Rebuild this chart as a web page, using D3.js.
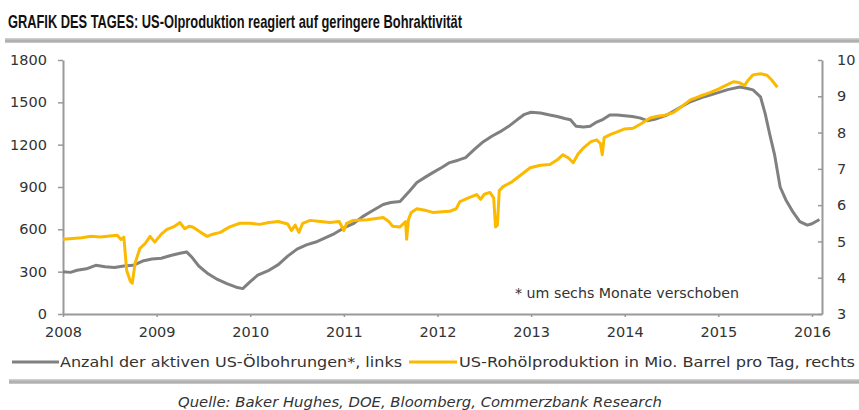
<!DOCTYPE html>
<html>
<head>
<meta charset="utf-8">
<script src="https://cdn.jsdelivr.net/npm/d3@7"></script>
<style>
  html, body { margin: 0; padding: 0; background: #fff; }
  svg { display: block; }
</style>
</head>
<body>
<svg id="chart" width="859" height="410"></svg>
<script>
// ---------- DATA ----------
const titleText = "GRAFIK DES TAGES: US-Olproduktion reagiert auf geringere Bohraktivität";
const sourceText = "Quelle: Baker Hughes, DOE, Bloomberg, Commerzbank Research";
const noteText = "* um sechs Monate verschoben";
const legendLabels = ["Anzahl der aktiven US-Ölbohrungen*, links", "US-Rohölproduktion in Mio. Barrel pro Tag, rechts"];

const yearTicks = [2008, 2009, 2010, 2011, 2012, 2013, 2014, 2015, 2016];
const leftTicks = [0, 300, 600, 900, 1200, 1500, 1800];
const rightTicks = [3, 4, 5, 6, 7, 8, 9, 10];

// Active US oil rigs (shifted 6 months), left axis
const rigDates = [2008.00,2008.08,2008.15,2008.25,2008.35,2008.45,2008.55,2008.65,2008.75,2008.85,2008.95,
  2009.05,2009.15,2009.25,2009.32,2009.38,2009.45,2009.55,2009.65,2009.75,2009.85,2009.92,
  2010.00,2010.08,2010.20,2010.30,2010.40,2010.50,2010.60,2010.70,2010.80,2010.90,
  2011.00,2011.10,2011.20,2011.30,2011.42,2011.50,2011.60,2011.70,2011.78,2011.87,2011.95,
  2012.05,2012.13,2012.22,2012.30,2012.40,2012.49,2012.58,2012.67,2012.76,2012.85,2012.93,
  2013.00,2013.10,2013.20,2013.28,2013.36,2013.42,2013.48,2013.56,2013.63,2013.70,2013.77,2013.84,2013.92,
  2014.00,2014.08,2014.16,2014.24,2014.32,2014.45,2014.58,2014.70,2014.85,2014.99,
  2015.10,2015.23,2015.30,2015.37,2015.45,2015.50,2015.55,2015.60,2015.66,2015.72,2015.80,2015.87,2015.95,2016.00,2016.08];
const rigValues = [300,295,310,320,345,335,330,340,345,375,390,
  395,415,430,440,400,340,285,245,215,190,180,
  230,275,310,350,410,460,490,510,540,570,
  610,640,690,730,776,790,798,870,932,970,1002,
  1040,1073,1090,1108,1170,1221,1260,1292,1330,1376,1415,
  1430,1425,1410,1400,1385,1376,1330,1325,1330,1360,1380,1410,1410,
  1405,1400,1390,1370,1380,1410,1460,1504,1540,1567,
  1590,1609,1600,1588,1539,1420,1270,1130,900,810,720,655,630,640,670];

// US crude oil production, mb/d, right axis
const prodDates = [2008.00,2008.10,2008.20,2008.30,2008.40,2008.50,2008.58,2008.62,2008.65,2008.68,2008.72,2008.74,2008.77,2008.82,2008.88,2008.93,2008.98,
  2009.05,2009.11,2009.18,2009.25,2009.30,2009.35,2009.39,2009.47,2009.54,2009.60,2009.68,2009.78,2009.89,
  2010.00,2010.10,2010.20,2010.30,2010.40,2010.44,2010.48,2010.52,2010.56,2010.64,2010.75,2010.85,2010.95,
  2011.00,2011.03,2011.10,2011.25,2011.42,2011.48,2011.52,2011.60,2011.66,2011.67,2011.69,2011.72,2011.78,2011.88,2011.95,
  2012.05,2012.13,2012.20,2012.24,2012.33,2012.42,2012.46,2012.50,2012.56,2012.60,2012.62,2012.64,2012.66,2012.70,2012.80,2012.90,2012.99,
  2013.10,2013.20,2013.28,2013.34,2013.40,2013.45,2013.50,2013.56,2013.64,2013.70,2013.74,2013.76,2013.78,2013.85,2013.92,
  2014.00,2014.09,2014.18,2014.27,2014.35,2014.43,2014.52,2014.60,2014.70,2014.80,2014.91,
  2015.00,2015.08,2015.16,2015.22,2015.28,2015.32,2015.37,2015.45,2015.52,2015.57,2015.63];
const prodValues = [5.06,5.08,5.10,5.14,5.12,5.15,5.17,5.05,5.12,4.20,3.90,3.85,4.40,4.80,4.95,5.14,4.98,
  5.20,5.33,5.40,5.52,5.35,5.42,5.39,5.25,5.14,5.20,5.25,5.40,5.50,
  5.50,5.47,5.52,5.55,5.48,5.30,5.45,5.25,5.50,5.58,5.55,5.52,5.55,
  5.30,5.50,5.58,5.60,5.66,5.55,5.42,5.40,5.55,5.06,5.60,5.80,5.90,5.85,5.80,
  5.82,5.83,5.90,6.10,6.20,6.29,6.16,6.30,6.35,6.20,5.40,5.45,6.40,6.51,6.65,6.85,7.03,
  7.10,7.12,7.25,7.39,7.30,7.17,7.40,7.58,7.75,7.80,7.70,7.39,7.86,7.95,8.02,
  8.10,8.12,8.25,8.40,8.45,8.48,8.55,8.70,8.90,9.00,9.10,
  9.20,9.30,9.40,9.38,9.30,9.45,9.59,9.62,9.58,9.45,9.25];

// ---------- LAYOUT ----------
const svg = d3.select("#chart");
const X0 = 63, X1 = 822, YT = 60, YB = 314;
const grayLine = "#808080", yellowLine = "#FBBA00", axisCol = "#999999", textCol = "#333333";
const fontFam = "'DejaVu Sans', 'Liberation Sans', Arial, sans-serif";

const x = d3.scaleLinear().domain([2008, 2016.107]).range([X0, X1]);
const yL = d3.scaleLinear().domain([0, 1800]).range([YB, YT]);
const yR = d3.scaleLinear().domain([3, 10]).range([YB, YT]);

// Title
svg.append("text")
  .attr("x", 8).attr("y", 28)
  .attr("font-family", "'Liberation Sans Narrow', 'Liberation Sans', Arial, sans-serif")
  .attr("font-weight", "bold").attr("font-size", 19)
  .attr("fill", "#111")
  .attr("textLength", 454).attr("lengthAdjust", "spacingAndGlyphs")
  .text(titleText);

// separators
const grad = svg.append("defs").append("linearGradient").attr("id", "sep").attr("x1", 0).attr("x2", 0).attr("y1", 0).attr("y2", 1);
grad.append("stop").attr("offset", "0%").attr("stop-color", "#d6d6d6");
grad.append("stop").attr("offset", "60%").attr("stop-color", "#a8a8a8");
grad.append("stop").attr("offset", "100%").attr("stop-color", "#cfcfcf");
svg.append("rect").attr("x", 5).attr("y", 38).attr("width", 854).attr("height", 5).attr("fill", "url(#sep)");
svg.append("rect").attr("x", 9).attr("y", 379).attr("width", 850).attr("height", 5).attr("fill", "url(#sep)");

// Axes
function styleAxis(g) {
  g.select(".domain").attr("stroke", axisCol).attr("stroke-width", 2);
  g.selectAll(".tick line").attr("stroke", axisCol).attr("stroke-width", 1.5);
  g.selectAll(".tick text").attr("fill", textCol).attr("font-family", fontFam).attr("font-size", 14.5);
}
const gL = svg.append("g").attr("transform", `translate(${X0},0)`)
  .call(d3.axisLeft(yL).tickValues(leftTicks).tickSizeInner(5).tickSizeOuter(0).tickPadding(11).tickFormat(d3.format("d")));
styleAxis(gL);
const gR = svg.append("g").attr("transform", `translate(${X1},0)`)
  .call(d3.axisRight(yR).tickValues(rightTicks).tickSizeInner(-4).tickSizeOuter(0).tickPadding(15).tickFormat(d3.format("d")));
styleAxis(gR);
const gB = svg.append("g").attr("transform", `translate(0,${YB})`)
  .call(d3.axisBottom(x).tickValues(yearTicks).tickSizeInner(3).tickSizeOuter(0).tickPadding(10).tickFormat(d3.format("d")));
styleAxis(gB);

// Lines
const rigData = rigDates.map((d, i) => [d, rigValues[i]]);
const prodData = prodDates.map((d, i) => [d, prodValues[i]]);
svg.append("path").datum(rigData)
  .attr("fill", "none").attr("stroke", grayLine).attr("stroke-width", 3).attr("stroke-linejoin", "round")
  .attr("d", d3.line().x(d => x(d[0])).y(d => yL(d[1])));
svg.append("path").datum(prodData)
  .attr("fill", "none").attr("stroke", yellowLine).attr("stroke-width", 3).attr("stroke-linejoin", "round")
  .attr("d", d3.line().x(d => x(d[0])).y(d => yR(d[1])));

// Note
svg.append("text").attr("x", 515).attr("y", 298)
  .attr("font-family", fontFam).attr("font-size", 13.5).attr("fill", textCol)
  .attr("textLength", 224).attr("lengthAdjust", "spacingAndGlyphs")
  .text(noteText);

// Legend
const legY = 362;
svg.append("line").attr("x1", 12).attr("x2", 59).attr("y1", legY).attr("y2", legY).attr("stroke", grayLine).attr("stroke-width", 3);
svg.append("text").attr("x", 60).attr("y", 367).attr("font-family", fontFam).attr("font-size", 13.5).attr("fill", textCol)
  .attr("textLength", 342).attr("lengthAdjust", "spacingAndGlyphs").text(legendLabels[0]);
svg.append("line").attr("x1", 409).attr("x2", 457).attr("y1", legY).attr("y2", legY).attr("stroke", yellowLine).attr("stroke-width", 3);
svg.append("text").attr("x", 459).attr("y", 367).attr("font-family", fontFam).attr("font-size", 13.5).attr("fill", textCol)
  .attr("textLength", 396).attr("lengthAdjust", "spacingAndGlyphs").text(legendLabels[1]);

// Source
svg.append("text").attr("x", 178).attr("y", 407)
  .attr("font-family", fontFam).attr("font-style", "italic").attr("font-size", 13.5).attr("fill", textCol)
  .attr("textLength", 484).attr("lengthAdjust", "spacingAndGlyphs").text(sourceText);
</script>
</body>
</html>
